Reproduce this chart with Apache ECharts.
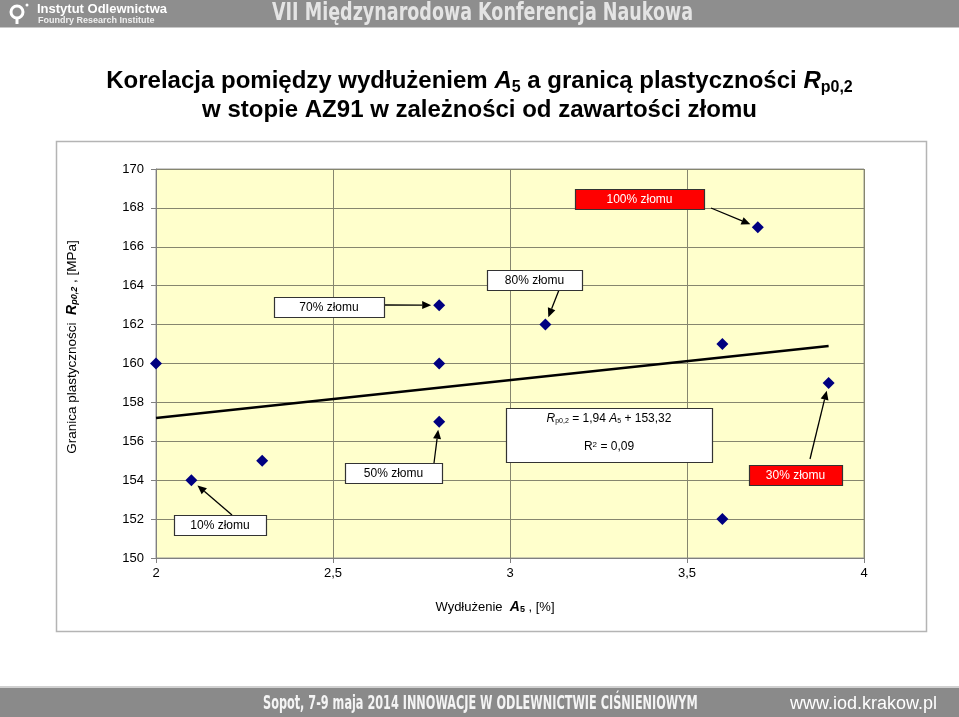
<!DOCTYPE html>
<html><head><meta charset="utf-8">
<script src="https://cdn.jsdelivr.net/npm/echarts@6/dist/echarts.min.js"></script>
<style>html,body{margin:0;padding:0;background:#fff}#c{width:959px;height:717px}</style>
</head><body><div id="c"></div>
<script>
// ---- data ----
const elongation = [2.0, 2.1, 2.3, 2.8, 2.8, 2.8, 3.1, 3.6, 3.6, 3.7, 3.9];
const yieldStrength = [160, 154, 155, 163, 160, 157, 162, 161, 152, 167, 159];
const trendX = [2.0, 3.9];
const trendY = [157.2, 160.9];
const xTicks = ['2', '2,5', '3', '3,5', '4'];
const noteTexts = ['100% złomu', '70% złomu', '80% złomu', '50% złomu', '10% złomu', '30% złomu'];
const noteTargets = [9, 3, 6, 5, 1, 10];

const F = '"Liberation Sans", Arial, sans-serif';
const FC = '"DejaVu Sans Condensed", "Liberation Sans Narrow", "Liberation Sans", sans-serif';
const chart = echarts.init(document.getElementById('c'), null, {renderer: 'canvas'});

chart.setOption({
  animation: false,
  backgroundColor: '#fff',
  title: {
    left: 'center', top: 62,
    text: 'Korelacja pomiędzy wydłużeniem {i|A}{s|5} a granicą plastyczności {i|R}{s|p0,2}\nw stopie AZ91 w zależności od zawartości złomu',
    textStyle: {
      fontFamily: F, fontSize: 24, fontWeight: 'bold', color: '#000', lineHeight: 29,
      rich: {
        i: {fontFamily: F, fontSize: 24, fontWeight: 'bold', fontStyle: 'italic', color: '#000', lineHeight: 29},
        s: {fontFamily: F, fontSize: 16, fontWeight: 'bold', color: '#000', verticalAlign: 'bottom', lineHeight: 14}
      }
    }
  },
  grid: {left: 156, top: 169, width: 708, height: 389, show: true, backgroundColor: '#FFFFCC', borderColor: '#999', borderWidth: 1},
  xAxis: {
    type: 'value', min: 2, max: 4, interval: 0.5,
    axisLine: {lineStyle: {color: '#808080'}},
    axisTick: {show: true, length: 5, lineStyle: {color: '#808080'}},
    splitLine: {lineStyle: {color: '#86866e', width: 1}},
    axisLabel: {color: '#000', fontFamily: F, fontSize: 13, margin: 9,
      formatter: v => xTicks[Math.round((v - 2) / 0.5)]}
  },
  yAxis: {
    type: 'value', min: 150, max: 170, interval: 2,
    axisLine: {show: true, lineStyle: {color: '#808080'}},
    axisTick: {show: true, length: 5, lineStyle: {color: '#808080'}},
    splitLine: {lineStyle: {color: '#86866e', width: 1}},
    axisLabel: {color: '#000', fontFamily: F, fontSize: 13, margin: 12}
  },
  series: [
    {type: 'scatter', symbol: 'diamond', symbolSize: 12, itemStyle: {color: '#000080', opacity: 1},
     data: elongation.map((x, i) => [x, yieldStrength[i]]), z: 5},
    {type: 'line', showSymbol: false, lineStyle: {color: '#000', width: 2.5},
     data: trendX.map((x, i) => [x, trendY[i]]), z: 4}
  ]
});

// ---- annotation layout ----
const noteBoxes = [[575,189,129,20],[274,297,110,20],[487,270,95,20],[345,463,97,20],[174,515,92,20],[749,465,93,20]];
const noteRed = [true, false, false, false, false, true];
const noteFrom = [[711,208],[384,305],[559,290],[434,463],[232,515],[810,459]];

const g = [];
// header
g.push({type: 'rect', shape: {x: 0, y: 0, width: 959, height: 27}, style: {fill: '#8e8e8e'}, silent: true});
g.push({type: 'rect', shape: {x: 0, y: 27, width: 959, height: 1}, style: {fill: '#c8c8c8'}, silent: true});
g.push({type: 'circle', shape: {cx: 17, cy: 12, r: 6}, style: {fill: 'none', stroke: '#fff', lineWidth: 3}});
g.push({type: 'rect', shape: {x: 15.5, y: 17, width: 3, height: 7}, style: {fill: '#fff'}});
g.push({type: 'circle', shape: {cx: 27, cy: 5, r: 1.5}, style: {fill: '#fff'}});
g.push({type: 'text', left: 37, top: 3, style: {text: 'Instytut Odlewnictwa', font: 'bold 13px ' + F, fill: '#fff'}});
g.push({type: 'text', x: 38, y: 16, style: {text: 'Foundry Research Institute', font: 'bold 9px ' + F, fill: '#f0f0f0'}});
g.push({type: 'text', x: 272, y: 1, scaleX: 0.78, style: {text: 'VII Międzynarodowa Konferencja Naukowa', font: 'bold 25px ' + FC, fill: '#e4e4e4'}});
// footer
g.push({type: 'rect', shape: {x: 0, y: 687, width: 959, height: 30}, style: {fill: '#8a8a8a'}, silent: true});
g.push({type: 'rect', shape: {x: 0, y: 686, width: 959, height: 2}, style: {fill: '#d0d0d0'}, silent: true});
g.push({type: 'text', x: 263, y: 695, scaleX: 0.66, style: {text: 'Sopot, 7-9 maja 2014 INNOWACJE W ODLEWNICTWIE CIŚNIENIOWYM', font: 'bold 19px ' + FC, fill: '#f4f4f4'}});
g.push({type: 'text', left: 790, top: 695, style: {text: 'www.iod.krakow.pl', font: '18px ' + F, fill: '#fff'}});
// chart frame
g.push({type: 'rect', shape: {x: 56.5, y: 141.5, width: 870, height: 490}, style: {fill: 'none', stroke: '#b4b4b4', lineWidth: 1.5}, z: -10});
// axis names
g.push({type: 'text', x: 72, y: 347, rotation: Math.PI / 2, z: 10,
  style: {text: 'Granica plastyczności  {i|R}{s|p0,2} , [MPa]', font: '13.5px ' + F, fill: '#000', align: 'center', verticalAlign: 'middle',
    rich: {i: {font: 'bold italic 14px ' + F}, s: {font: 'bold italic 9px ' + F, verticalAlign: 'bottom', lineHeight: 9}}}});
g.push({type: 'text', x: 495, y: 607, z: 10,
  style: {text: 'Wydłużenie  {i|A}{s|5} , [%]', font: '13px ' + F, fill: '#000', align: 'center', verticalAlign: 'middle',
    rich: {i: {font: 'bold italic 14px ' + F}, s: {font: 'bold 9px ' + F, verticalAlign: 'bottom', lineHeight: 9}}}});

// annotations
noteTexts.forEach((t, k) => {
  const b = noteBoxes[k];
  const red = noteRed[k];
  const idx = noteTargets[k];
  const p = chart.convertToPixel({seriesIndex: 0}, [elongation[idx], yieldStrength[idx]]);
  const f = noteFrom[k];
  const dx = p[0] - f[0], dy = p[1] - f[1];
  const L = Math.sqrt(dx * dx + dy * dy);
  const ux = dx / L, uy = dy / L;
  const ex = p[0] - ux * 8, ey = p[1] - uy * 8;
  const ah = 9, aw = 4;
  const bx = ex - ux * ah, by = ey - uy * ah;
  g.push({type: 'line', z: 20, shape: {x1: f[0], y1: f[1], x2: bx, y2: by}, style: {stroke: '#000', lineWidth: 1.3}});
  g.push({type: 'polygon', z: 20, shape: {points: [[ex, ey], [bx - uy * aw, by + ux * aw], [bx + uy * aw, by - ux * aw]]}, style: {fill: '#000'}});
  g.push({type: 'rect', z: 20, shape: {x: b[0] + 0.5, y: b[1] + 0.5, width: b[2], height: b[3]},
    style: {fill: red ? '#FF0000' : '#fff', stroke: '#333', lineWidth: 1.2}});
  g.push({type: 'text', z: 21, x: b[0] + b[2] / 2, y: b[1] + b[3] / 2 + 1,
    style: {text: t, font: '12px ' + F, fill: red ? '#fff' : '#000', align: 'center', verticalAlign: 'middle'}});
});
// equation box
g.push({type: 'rect', z: 20, shape: {x: 506.5, y: 408.5, width: 206, height: 54}, style: {fill: '#fff', stroke: '#333', lineWidth: 1.2}});
g.push({type: 'text', z: 21, x: 609, y: 419,
  style: {text: '{i|R}{s|p0,2} = 1,94 {i|A}{s|5} + 153,32', font: '12px ' + F, fill: '#000', align: 'center', verticalAlign: 'middle',
    rich: {i: {font: 'italic 12px ' + F}, s: {font: '7px ' + F, verticalAlign: 'bottom', lineHeight: 7}}}});
g.push({type: 'text', z: 21, x: 609, y: 447,
  style: {text: 'R{p|2} = 0,09', font: '12px ' + F, fill: '#000', align: 'center', verticalAlign: 'middle',
    rich: {p: {font: '8px ' + F, verticalAlign: 'top', lineHeight: 8}}}});

chart.setOption({graphic: g});
</script>
</body></html>
